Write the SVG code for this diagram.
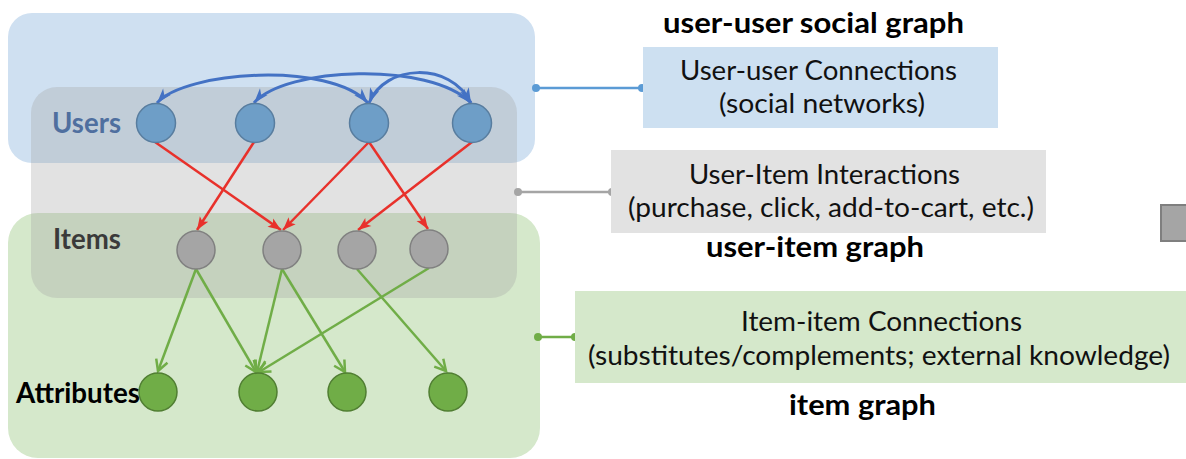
<svg xmlns="http://www.w3.org/2000/svg" width="1186" height="459" viewBox="0 0 1186 459">
<style>
.t{font-family:Lato,"Liberation Sans",sans-serif;font-size:26px;fill:#111;text-anchor:middle}
.b{font-family:Lato,"Liberation Sans",sans-serif;font-size:28px;font-weight:bold;fill:#000;text-anchor:middle}
.lbl{font-family:Lato,"Liberation Sans",sans-serif;font-size:28px;font-weight:bold}
.u{fill:#6e9ec7;stroke:#587d9f;stroke-width:1.5}
.i{fill:#a5a5a5;stroke:#808080;stroke-width:1.5}
.a{fill:#70ad47;stroke:#507e32;stroke-width:1.5}
.blue{fill:none;stroke:#4472c4;stroke-width:3;marker-start:url(#mb);marker-end:url(#mb)}
.red{fill:none;stroke:#e8312b;stroke-width:2.5;marker-end:url(#mr)}
.grn{fill:none;stroke:#70ad47;stroke-width:2.5;marker-end:url(#mg)}
</style>
<defs>
<marker id="mb" markerUnits="userSpaceOnUse" markerWidth="18" markerHeight="12" refX="15" refY="5" orient="auto-start-reverse" overflow="visible">
<path d="M0,0 L15,5 L0,10 L4,5 Z" fill="#4472c4"/>
</marker>
<marker id="mr" markerUnits="userSpaceOnUse" markerWidth="16" markerHeight="12" refX="13" refY="5" orient="auto" overflow="visible">
<path d="M0,0 L13,5 L0,10 L3,5 Z" fill="#e8312b"/>
</marker>
<marker id="mg" markerUnits="userSpaceOnUse" markerWidth="16" markerHeight="14" refX="12" refY="6.5" orient="auto" overflow="visible">
<path d="M1,0.5 L12,6.5 L1,12.5" fill="none" stroke="#70ad47" stroke-width="2.5"/>
</marker>
</defs>

<g id="regions">
<rect x="8" y="13" width="527" height="150" rx="24" fill="#cfe0f1"/>
<rect x="8" y="213" width="532" height="245" rx="30" fill="#d5e8cb"/>
<rect x="31" y="87" width="486" height="211" rx="26" fill="#a5a5a5" fill-opacity="0.32"/>
</g>

<g id="labels">
<text class="lbl" x="52" y="133" fill="#4f6f9f" textLength="69" lengthAdjust="spacingAndGlyphs">Users</text>
<text class="lbl" x="53" y="249" fill="#3a3a3a" textLength="68" lengthAdjust="spacingAndGlyphs">Items</text>
<text class="lbl" x="16" y="403" fill="#000" textLength="124" lengthAdjust="spacingAndGlyphs">Attributes</text>
</g>

<g id="connectors">
<path class="blue" d="M157,103 C185,71 330,61 368,103"/>
<path class="blue" d="M254,103 C285,67 430,61 471,103"/>
<path class="blue" d="M369,103 C385,64 450,61 471,103"/>
<path class="red" d="M155,142 L281,230"/>
<path class="red" d="M254,142 L197,230"/>
<path class="red" d="M369,142 L283,230"/>
<path class="red" d="M369,142 L428,229"/>
<path class="red" d="M472,142 L358,230"/>
<path class="grn" d="M196,269 L158,371"/>
<path class="grn" d="M196,269 L256,372"/>
<path class="grn" d="M282,269 L257,372"/>
<path class="grn" d="M282,269 L345,372"/>
<path class="grn" d="M357,269 L446,371"/>
<path class="grn" d="M429,268 L259,372"/>
<g id="legend-links" stroke-width="2.5">
<line x1="536" y1="88" x2="642" y2="88" stroke="#5b9bd5"/>
<circle cx="536" cy="88" r="4" fill="#5b9bd5"/>
<circle cx="642" cy="88" r="4" fill="#5b9bd5"/>
<line x1="518" y1="192" x2="612" y2="192" stroke="#a5a5a5"/>
<circle cx="518" cy="192" r="4" fill="#a5a5a5"/>
<circle cx="612" cy="192" r="4" fill="#a5a5a5"/>
<line x1="538" y1="337" x2="575" y2="337" stroke="#70ad47"/>
<circle cx="538" cy="337" r="4" fill="#70ad47"/>
<circle cx="575" cy="337" r="4" fill="#70ad47"/>
</g>
</g>

<g id="user1"><circle class="u" cx="156" cy="123" r="19.5"/></g>
<g id="user2"><circle class="u" cx="255" cy="123" r="19.5"/></g>
<g id="user3"><circle class="u" cx="369" cy="123" r="19.5"/></g>
<g id="user4"><circle class="u" cx="472" cy="123" r="19.5"/></g>

<g id="item1"><circle class="i" cx="196" cy="250" r="19"/></g>
<g id="item2"><circle class="i" cx="282" cy="250" r="19"/></g>
<g id="item3"><circle class="i" cx="357" cy="250" r="19"/></g>
<g id="item4"><circle class="i" cx="429" cy="249" r="19"/></g>

<g id="attr1"><circle class="a" cx="158" cy="392" r="19"/></g>
<g id="attr2"><circle class="a" cx="258" cy="392" r="19"/></g>
<g id="attr3"><circle class="a" cx="347" cy="392" r="19"/></g>
<g id="attr4"><circle class="a" cx="448" cy="392" r="19"/></g>

<g id="social-graph">
<text class="b" x="813.5" y="33" textLength="301" lengthAdjust="spacingAndGlyphs">user-user social graph</text>
<rect x="643" y="47" width="355" height="81" fill="#cde0f1"/>
<text class="t" x="818.5" y="80" textLength="277" lengthAdjust="spacingAndGlyphs">User-user Connections</text>
<text class="t" x="822" y="113" textLength="206" lengthAdjust="spacingAndGlyphs">(social networks)</text>
</g>

<g id="user-item-graph">
<rect x="611" y="150" width="435" height="83" fill="#e2e2e2"/>
<text class="t" x="824.5" y="184" textLength="271" lengthAdjust="spacingAndGlyphs">User-Item Interactions</text>
<text class="t" x="831" y="217" textLength="406" lengthAdjust="spacingAndGlyphs">(purchase, click, add-to-cart, etc.)</text>
<text class="b" x="815" y="257" textLength="218" lengthAdjust="spacingAndGlyphs">user-item graph</text>
</g>

<g id="item-graph">
<rect x="575" y="291" width="611" height="92" fill="#d5e8cb"/>
<text class="t" x="881.5" y="331" textLength="281" lengthAdjust="spacingAndGlyphs">Item-item Connections</text>
<text class="t" x="879" y="365" textLength="582" lengthAdjust="spacingAndGlyphs">(substitutes/complements; external knowledge)</text>
<text class="b" x="862.5" y="415" textLength="147" lengthAdjust="spacingAndGlyphs">item graph</text>
</g>

<g id="edge-box">
<rect x="1161" y="205" width="30" height="36" fill="#a5a5a5" stroke="#7f7f7f" stroke-width="2"/>
</g>
</svg>
